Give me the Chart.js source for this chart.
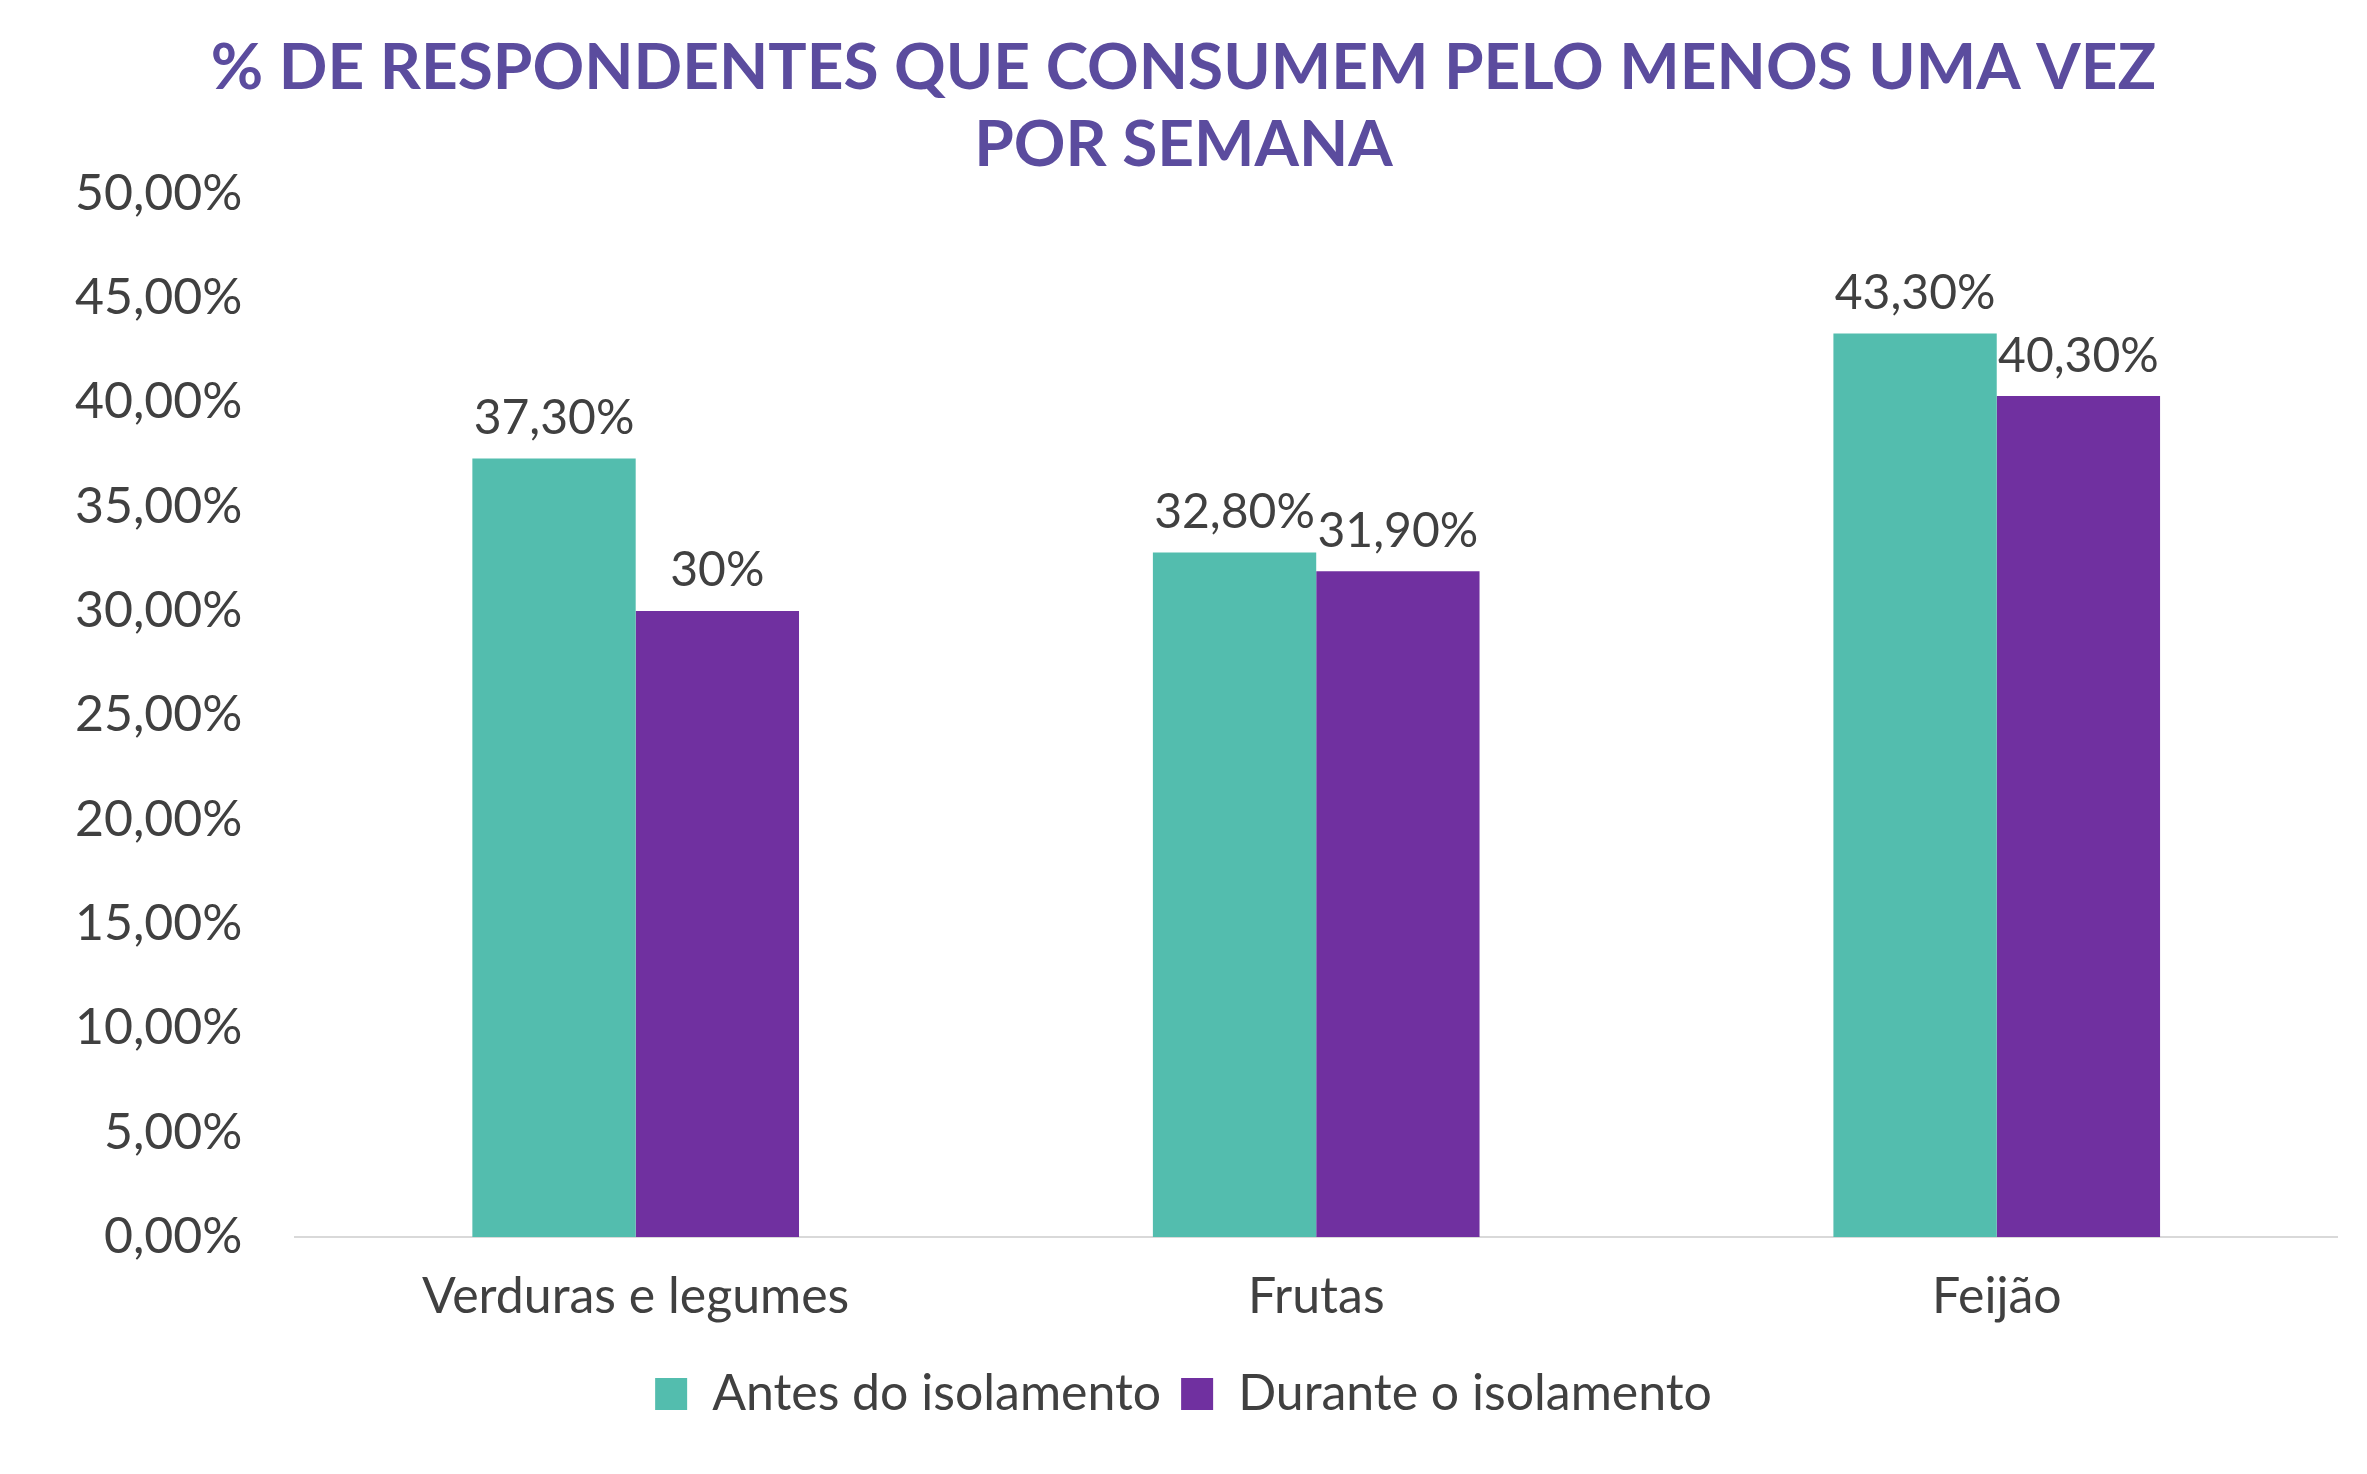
<!DOCTYPE html>
<html>
<head>
<meta charset="utf-8">
<script src="https://cdn.jsdelivr.net/npm/chart.js@4"></script>
<style>
  html, body { margin: 0; padding: 0; background: #fff; }
  #wrap { width: 2367px; height: 1474px; }
</style>
</head>
<body>
<div id="wrap"><canvas id="c"></canvas></div>
<script>
// Chart data
var categories = ["Verduras e legumes", "Frutas", "Feijão"];
var seriesNames = ["Antes do isolamento", "Durante o isolamento"];
var antes = [37.3, 32.8, 43.3];
var durante = [30, 31.9, 40.3];
var antesLabels = ["37,30%", "32,80%", "43,30%"];
var duranteLabels = ["30%", "31,90%", "40,30%"];
var titleLines = ["% DE RESPONDENTES QUE CONSUMEM PELO MENOS UMA VEZ", "POR SEMANA"];

var FONT = "Lato, 'DejaVu Sans', sans-serif";

// draw value labels above each bar
var valueLabels = {
  id: "valueLabels",
  afterDatasetsDraw: function (chart) {
    var ctx = chart.ctx;
    ctx.save();
    ctx.font = "48px " + FONT;
    ctx.fillStyle = "#404040";
    ctx.textAlign = "center";
    ctx.textBaseline = "bottom";
    chart.data.datasets.forEach(function (ds, di) {
      chart.getDatasetMeta(di).data.forEach(function (bar, i) {
        ctx.fillText(ds.valueText[i], bar.x, bar.y - 16);
      });
    });
    ctx.restore();
  }
};

new Chart(document.getElementById("c"), {
  type: "bar",
  data: {
    labels: categories,
    datasets: [
      { label: seriesNames[0], data: antes, valueText: antesLabels, backgroundColor: "#53BDAE" },
      { label: seriesNames[1], data: durante, valueText: duranteLabels, backgroundColor: "#7030A0" }
    ]
  },
  options: {
    responsive: true,
    maintainAspectRatio: false,
    animation: false,
    datasets: { bar: { categoryPercentage: 0.48, barPercentage: 1.0 } },
    layout: { padding: { left: 30, right: 30, top: 20, bottom: 45 } },
    plugins: {
      title: {
        display: true,
        text: titleLines,
        color: "#5B4C9E",
        font: { family: FONT, size: 64, weight: "bold" },
        padding: { top: 10, bottom: 10 }
      },
      legend: {
        position: "bottom",
        labels: {
          color: "#404040",
          font: { family: FONT, size: 50 },
          boxWidth: 32, boxHeight: 32, padding: 20
        }
      },
      tooltip: { enabled: false }
    },
    scales: {
      x: {
        grid: { display: false },
        border: { color: "#D9D9D9", width: 2 },
        ticks: { color: "#404040", font: { family: FONT, size: 50 }, padding: 22 }
      },
      y: {
        min: 0, max: 50,
        grid: { display: false },
        border: { display: false },
        ticks: {
          stepSize: 5,
          color: "#404040",
          font: { family: FONT, size: 50 },
          padding: 45,
          callback: function (v) { return v.toFixed(2).replace(".", ",") + "%"; }
        }
      }
    }
  },
  plugins: [valueLabels]
});
</script>
</body>
</html>
